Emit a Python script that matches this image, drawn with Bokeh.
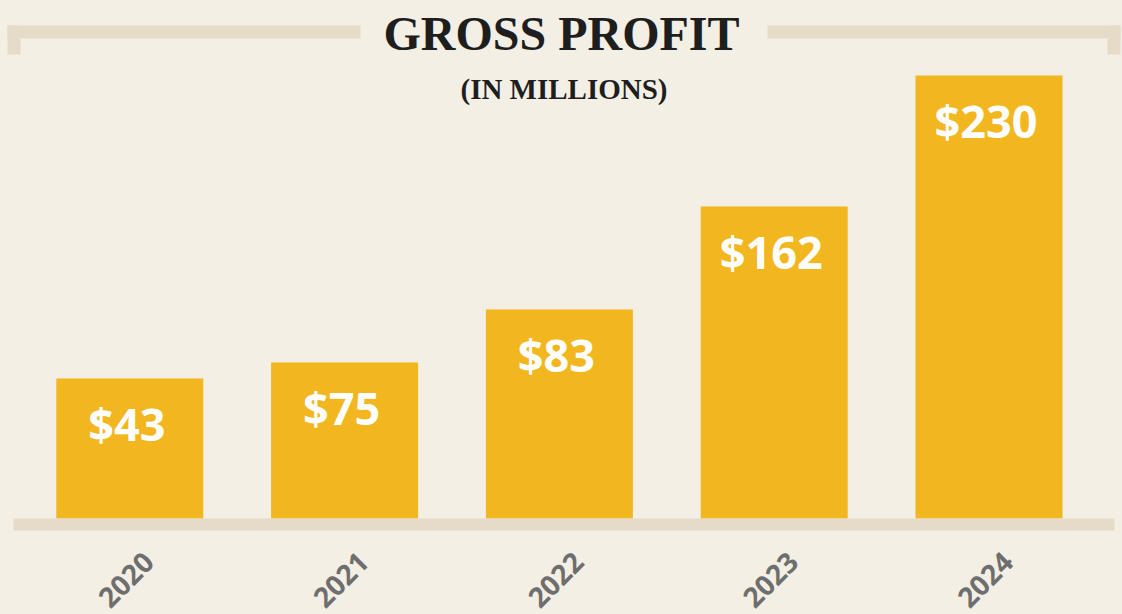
import math
from bokeh.plotting import figure
from bokeh.models import ColumnDataSource, Range1d, BoxAnnotation, LabelSet, GlobalInlineStyleSheet
from bokeh.core.properties import value
from bokeh.embed import file_html
from bokeh.resources import INLINE

# ---- data ----
years = ["2020", "2021", "2022", "2023", "2024"]
gross_profit = [43, 75, 83, 162, 230]                 # $ millions (label values)
bar_heights = [72.7, 81.0, 108.5, 162.0, 230.0]      # drawn bar heights as shown (not to scale in original)
value_labels = ["$43", "$75", "$83", "$162", "$230"]

title_text = "GROSS PROFIT"
subtitle_text = "(IN MILLIONS)"

# ---- styles ----
BG = "#F3EFE5"
BAR = "#F2B61F"
BEIGE = "#E5DBC8"
YEAR_GRAY = "#6E6E6E"
TITLE_COL = "#1E1E1E"

W, H = 1122, 614
X0_PX, DX_PX = 129.3, 214.8       # pixel position of first category and spacing
Y0_PX, DY_PX = 518.0, 1.926       # pixel row of zero, pixels per unit

def px2x(fx):
    return (fx - X0_PX) / DX_PX

def px2y(fy):
    return (Y0_PX - fy) / DY_PX

xs = list(range(len(years)))

p = figure(width=W, height=H, output_backend="svg", toolbar_location=None,
           x_range=Range1d(px2x(0), px2x(W)), y_range=Range1d(px2y(H), px2y(0)),
           min_border=0, min_border_left=0, min_border_right=0,
           min_border_top=0, min_border_bottom=0)
p.axis.visible = False
p.grid.visible = False
p.outline_line_color = None
p.background_fill_color = BG
p.border_fill_color = BG
p.stylesheets = [GlobalInlineStyleSheet(css="html, body { background-color: %s; }" % BG)]

src = ColumnDataSource(dict(x=xs, h=bar_heights, val=gross_profit, lab=value_labels, year=years))

# bars
p.vbar(x="x", top="h", bottom=0, width=147 / DX_PX, source=src,
       fill_color=BAR, line_color=None)

# baseline
p.add_layout(BoxAnnotation(left=px2x(13), right=px2x(1114), top=0, bottom=px2y(530),
                           fill_color=BEIGE, fill_alpha=1, line_color=None, level="overlay"))

# bracket (left)
p.add_layout(BoxAnnotation(left=px2x(7), right=px2x(360), top=px2y(25), bottom=px2y(38),
                           fill_color=BEIGE, fill_alpha=1, line_color=None))
p.add_layout(BoxAnnotation(left=px2x(7), right=px2x(20), top=px2y(25), bottom=px2y(54),
                           fill_color=BEIGE, fill_alpha=1, line_color=None))
# bracket (right)
p.add_layout(BoxAnnotation(left=px2x(767), right=px2x(1120), top=px2y(25), bottom=px2y(38),
                           fill_color=BEIGE, fill_alpha=1, line_color=None))
p.add_layout(BoxAnnotation(left=px2x(1107), right=px2x(1120), top=px2y(25), bottom=px2y(54),
                           fill_color=BEIGE, fill_alpha=1, line_color=None))

# value labels
p.text(x="x", y="h", text="lab", source=src, x_offset=-3, y_offset=45,
       text_align="center", text_baseline="alphabetic",
       text_font=value("Open Sans"), text_font_style="bold",
       text_font_size="45px", text_color="white")

# year labels
p.add_layout(LabelSet(x="x", y=px2y(579), text="year", source=src, x_offset=-4,
                      angle=math.pi / 4, text_align="center", text_baseline="middle",
                      text_font=value("Open Sans"), text_font_style="bold",
                      text_font_size="28px", text_color=YEAR_GRAY))

# title & subtitle
p.text(x=[px2x(561)], y=[px2y(33)], text=[title_text],
       text_align="center", text_baseline="alphabetic",
       text_font=value("Liberation Serif"), text_font_style="bold",
       text_font_size="48px", text_color=TITLE_COL)
p.text(x=[px2x(563.5)], y=[px2y(88)], text=[subtitle_text],
       text_align="center", text_baseline="alphabetic",
       text_font=value("Liberation Serif"), text_font_style="bold",
       text_font_size="29px", text_color=TITLE_COL)

open("out.html", "w").write(file_html(p, INLINE))
